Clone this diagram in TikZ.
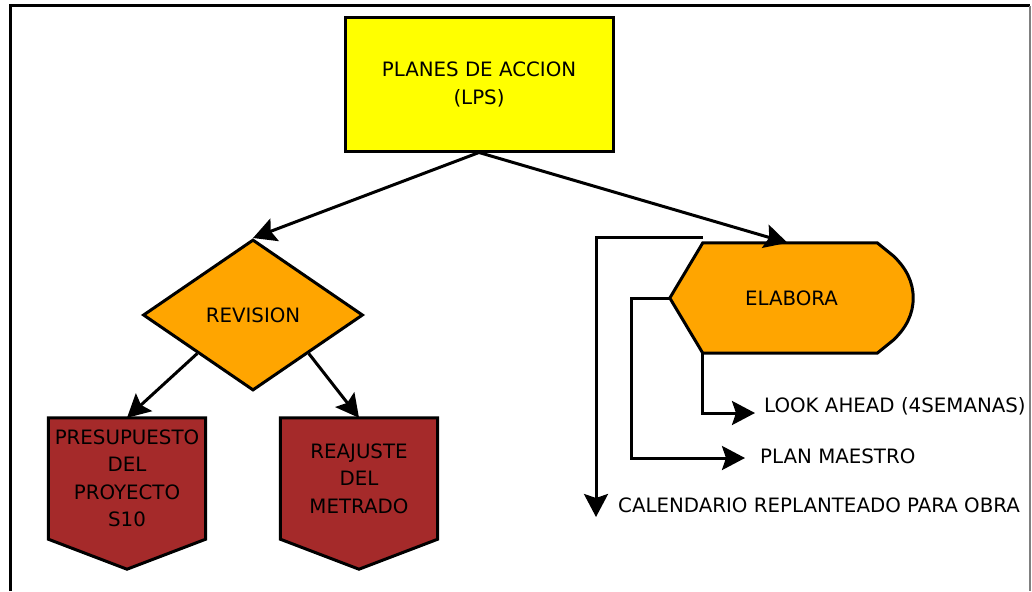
\documentclass[tikz,border=0pt]{standalone}
\usepackage{fontspec}
\setmainfont{DejaVu Sans}
\usetikzlibrary{shapes.geometric,arrows.meta,calc,backgrounds}
\definecolor{boxyellow}{RGB}{255,255,0}
\definecolor{boxorange}{RGB}{255,165,0}
\definecolor{boxred}{RGB}{165,42,42}

\begin{document}
\begin{tikzpicture}[x=1pt,y=-1pt,
  every node/.style={font=\fontsize{19.8}{27.5}\selectfont, text=black},
  shapeline/.style={draw=black, line width=3pt, line join=miter},
  conn/.style={line width=3pt, -{Stealth[length=23pt,width=24pt,inset=4pt]}},
  areabox/.style={inner sep=0pt, align=center},
  listtext/.style={inner sep=0pt, anchor=west}
]
\useasboundingbox (0,0) rectangle (1032,591);

% page frame
\draw[line width=3pt] (10,591) -- (10,6) -- (1030,6);
\draw[gray, line width=1.3pt] (1030,6) -- (1030,591);

% main boxes
\node[shapeline, fill=boxyellow, areabox, minimum width=268pt, minimum height=133pt]
  (plan) at (479,84.5) {PLANES DE ACCION\\(LPS)};
\node[diamond, shapeline, fill=boxorange, inner sep=0pt,
  minimum width=220pt, minimum height=151pt] (rev) at (253,315) {REVISION};
\node[areabox, minimum width=157pt, minimum height=121pt]
  (pres) at (127,478.5) {PRESUPUESTO\\DEL\\PROYECTO\\S10};
\node[areabox, minimum width=157pt, minimum height=121pt]
  (rep) at (359,478.5) {REAJUSTE\\DEL\\METRADO};
\node[areabox, minimum width=243pt, minimum height=110pt]
  (elab) at (791.5,298) {ELABORA};

% outputs of ELABORA
\node[listtext] (look) at (764,406) {LOOK AHEAD (4SEMANAS)};
\node[listtext] (maes) at (760,456) {PLAN MAESTRO};
\node[listtext] (cal)  at (618,505) {CALENDARIO REPLANTEADO PARA OBRA};

% shapes drawn behind their labels
\begin{scope}[on background layer]
  \foreach \n in {pres,rep}
    \draw[shapeline, fill=boxred] (\n.north west) -- (\n.north east) -- (\n.south east)
      -- ($(\n.south)+(0,30)$) -- (\n.south west) -- cycle;
  \draw[shapeline, fill=boxorange]
    ($(elab.north west)+(33,0)$) -- ($(elab.north east)+(-36,0)$)
    -- ($(elab.north east)+(-20,13)$)
    .. controls ($(elab.east)+(-7,-30)$) and ($(elab.east)+(0,-16)$) .. (elab.east)
    .. controls ($(elab.east)+(0,16)$) and ($(elab.east)+(-7,30)$) .. ($(elab.south east)+(-20,-13)$)
    -- ($(elab.south east)+(-36,0)$)
    -- ($(elab.south west)+(33,0)$) -- (elab.west) -- cycle;
\end{scope}

% connectors
\draw[conn] (plan.south) -- (rev.north);
\draw[conn] (plan.south) -- ($(elab.north)+(-4,0)$);
\draw[conn] (rev.south west) -- (pres.north);
\draw[conn] (rev.south east) -- (rep.north);

\draw[conn] ($(elab.north west)+(33,-5)$) -| ($(cal.west)+(-22,12)$);
\draw[conn] (elab.west) -- ($(elab.west)+(-38,0)$) |- ($(maes.west)+(-15,2)$);
\draw[conn] ($(elab.south west)+(33,0)$) |- ($(look.west)+(-9,7)$);
\end{tikzpicture}
\end{document}
